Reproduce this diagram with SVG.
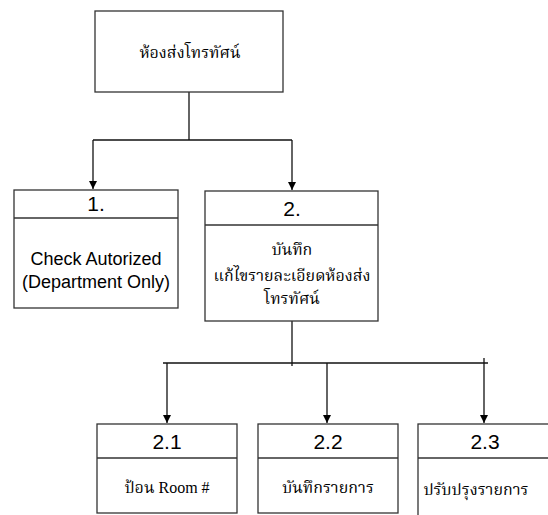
<svg xmlns="http://www.w3.org/2000/svg" width="548" height="515" viewBox="0 0 548 515">
<defs>
<style>
.box{fill:none;stroke:#333;stroke-width:1.3}
.ln{fill:none;stroke:#111;stroke-width:1.3}
.num{font-family:"Liberation Sans",Arial,sans-serif;font-size:21px;fill:#000;text-anchor:middle}
.en{font-family:"Liberation Sans",Arial,sans-serif;font-size:18px;fill:#000;text-anchor:middle}
.th{font-family:"Liberation Serif","Noto Serif Thai","Noto Sans Thai",serif;font-size:16px;fill:#000;text-anchor:middle}
</style>
<marker id="arr" viewBox="0 0 10 10" refX="10" refY="5" markerWidth="8" markerHeight="10" markerUnits="userSpaceOnUse" orient="auto">
<path d="M0,0 L10,5 L0,10 z" fill="#000"/>
</marker>
</defs>
<rect width="548" height="515" fill="#fff"/>
<g id="connectors">
<path class="ln" d="M189,92 V140"/>
<path class="ln" d="M93,140 H292"/>
<path class="ln" d="M93,140 V189" marker-end="url(#arr)"/>
<path class="ln" d="M292,140 V190" marker-end="url(#arr)"/>
<path class="ln" d="M292,321 V366"/>
<path class="ln" d="M163,363 H488"/>
<path class="ln" d="M484,358 V363"/>
<path class="ln" d="M167,363 V423" marker-end="url(#arr)"/>
<path class="ln" d="M327,363 V423" marker-end="url(#arr)"/>
<path class="ln" d="M484,363 V423" marker-end="url(#arr)"/>
</g>
<g id="node-root">
<rect class="box" x="95" y="11" width="188" height="81"/>
<text class="th" x="190" y="58">ห้องส่งโทรทัศน์</text>
</g>
<g id="node-1">
<rect class="box" x="14" y="190" width="164" height="118"/>
<line class="box" x1="14" y1="218" x2="178" y2="218"/>
<text class="num" x="96" y="211">1.</text>
<text class="en" x="96" y="265">Check Autorized</text>
<text class="en" x="96" y="288">(Department Only)</text>
</g>
<g id="node-2">
<rect class="box" x="205" y="191" width="173" height="130"/>
<line class="box" x1="205" y1="225" x2="378" y2="225"/>
<text class="num" x="292" y="216">2.</text>
<text class="th" x="292" y="255">บันทึก</text>
<text class="th" x="292" y="281">แก้ไขรายละเอียดห้องส่ง</text>
<text class="th" x="292" y="304">โทรทัศน์</text>
</g>
<g id="node-2-1">
<rect class="box" x="97" y="424" width="140" height="89"/>
<line class="box" x1="97" y1="458" x2="237" y2="458"/>
<text class="num" x="167" y="449">2.1</text>
<text class="th" x="167" y="493">ป้อน Room #</text>
</g>
<g id="node-2-2">
<rect class="box" x="258" y="424" width="140" height="89"/>
<line class="box" x1="258" y1="458" x2="398" y2="458"/>
<text class="num" x="328" y="449">2.2</text>
<text class="th" x="328" y="493">บันทึกรายการ</text>
</g>
<g id="node-2-3">
<rect class="box" x="418" y="424" width="150" height="100"/>
<line class="box" x1="418" y1="458" x2="548" y2="458"/>
<text class="num" x="485" y="449">2.3</text>
<text class="th" x="476" y="495">ปรับปรุงรายการ</text>
</g>
</svg>
